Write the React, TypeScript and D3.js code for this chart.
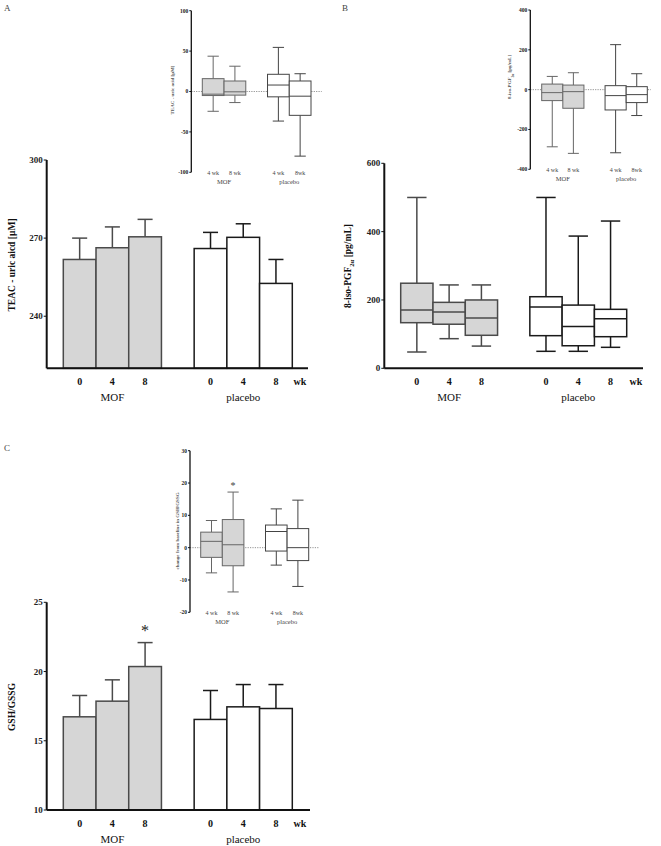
import React from "react";
import * as d3 from "d3";

// ---------- data ----------
const slots = ["MOF-0", "MOF-4", "MOF-8", "gap", "placebo-0", "placebo-4", "placebo-8"];
const barSlots = ["MOF-0", "MOF-4", "MOF-8", "placebo-0", "placebo-4", "placebo-8"];
const weekLabels = ["0", "4", "8", "0", "4", "8"];
const insetSlots = ["MOF-4", "MOF-8", "gap", "placebo-4", "placebo-8"];
const insetBoxSlots = ["MOF-4", "MOF-8", "placebo-4", "placebo-8"];
const insetWeekLabels = ["4 wk", "8 wk", "4 wk", "8wk"];

// Panel A: TEAC - uric acid (mean, upper SD)
const teacMean = [261.8, 266.3, 270.5, 266.0, 270.3, 252.6];
const teacUpper = [270.0, 274.3, 277.2, 272.2, 275.5, 261.8];
const teacTicks = [240, 270, 300];
// Panel A inset: change from baseline
const teacChgMin = [-24.5, -13.7, -36.6, -80];
const teacChgQ1 = [-5, -4.5, -6.6, -29.5];
const teacChgMed = [-3.3, -0.4, 8, -5.8];
const teacChgQ3 = [15.9, 13, 21.3, 13];
const teacChgMax = [43.7, 31.3, 54.6, 22];
const teacChgTicks = [-100, -50, 0, 50, 100];

// Panel B: 8-iso-PGF2a boxplots
const isoMin = [47.7, 86.7, 65, 49.7, 49.7, 61.4];
const isoQ1 = [133.5, 129, 96.6, 95.5, 66, 92.5];
const isoMed = [170.6, 165, 147, 179.4, 122, 145];
const isoQ3 = [249, 193, 200, 209.5, 185, 172.6];
const isoMax = [500, 244, 244, 500, 387, 431];
const isoTicks = [0, 200, 400, 600];
// Panel B inset
const isoChgMin = [-287, -320, -317, -130];
const isoChgQ1 = [-55, -93.5, -102, -65];
const isoChgMed = [-15, -10, -30, -25];
const isoChgQ3 = [28, 23, 20, 15];
const isoChgMax = [66.5, 85, 226, 80];
const isoChgTicks = [-400, -200, 0, 200, 400];

// Panel C: GSH/GSSG
const gshMean = [16.73, 17.86, 20.36, 16.54, 17.45, 17.33];
const gshUpper = [18.27, 19.4, 22.09, 18.63, 19.06, 19.06];
const gshTicks = [10, 15, 20, 25];
// Panel C inset
const gshChgMin = [-7.8, -13.7, -5.4, -12];
const gshChgQ1 = [-3, -5.6, -1.05, -4];
const gshChgMed = [1.95, 0.9, 5, 0];
const gshChgQ3 = [4.8, 8.7, 7, 5.9];
const gshChgMax = [8.4, 17.2, 12, 14.7];
const gshChgTicks = [-20, -10, 0, 10, 20, 30];

// ---------- style ----------
const FONT = "'Liberation Serif', 'DejaVu Serif', serif";
const MOF_FILL = "#d6d6d6";
const MOF_STROKE = "#4a4a4a";
const PLA_STROKE = "#1a1a1a";
const isMOF = (s: string) => s.startsWith("MOF");

type YLabel = React.ReactNode;

function YAxis({ x, y, ticks, fontSize, width, tickLen }: any) {
  const [r0, r1] = y.range();
  return (
    <g>
      <line x1={x} x2={x} y1={r0} y2={r1} stroke="#111" strokeWidth={width} />
      {ticks.map((t: number) => (
        <g key={t}>
          <line x1={x - tickLen} x2={x} y1={y(t)} y2={y(t)} stroke="#111" strokeWidth={1} />
          <text
            x={x - tickLen - 1}
            y={y(t)}
            dy="0.35em"
            textAnchor="end"
            fontFamily={FONT}
            fontWeight="bold"
            fontSize={fontSize}
            fill="#222"
          >
            {t}
          </text>
        </g>
      ))}
    </g>
  );
}

function MainXLabels({ x, baseY, wkX }: any) {
  return (
    <g fontFamily={FONT} fill="#111">
      {barSlots.map((s, i) => (
        <text key={s} x={x(s)! + x.bandwidth() / 2} y={baseY} textAnchor="middle" fontWeight="bold" fontSize={10}>
          {weekLabels[i]}
        </text>
      ))}
      <text x={wkX} y={baseY} textAnchor="middle" fontWeight="bold" fontSize={10}>wk</text>
      <text x={x("MOF-4")! + x.bandwidth() / 2} y={baseY + 16} textAnchor="middle" fontSize={11}>MOF</text>
      <text x={x("placebo-4")! + x.bandwidth() / 2} y={baseY + 16} textAnchor="middle" fontSize={11}>placebo</text>
    </g>
  );
}

function BarPanel({ means, uppers, yDomain, yRange, ticks, axisX, xRange, axisEnd, labelBase, wkX, ylabel, ylabelY, star }: any) {
  const x = d3.scaleBand<string>().domain(slots).range(xRange).padding(0);
  const y = d3.scaleLinear().domain(yDomain).range(yRange);
  const bw = x.bandwidth();
  const base = yRange[0];
  return (
    <g>
      {barSlots.map((s, i) => {
        const m = isMOF(s);
        const stroke = m ? MOF_STROKE : PLA_STROKE;
        const cx = x(s)! + bw / 2;
        return (
          <g key={s}>
            <line x1={cx} x2={cx} y1={y(means[i])} y2={y(uppers[i])} stroke={stroke} strokeWidth={1.5} />
            <line x1={cx - bw * 0.23} x2={cx + bw * 0.23} y1={y(uppers[i])} y2={y(uppers[i])} stroke={stroke} strokeWidth={1.5} />
            <rect
              x={x(s)!}
              y={y(means[i])}
              width={bw}
              height={base - y(means[i])}
              fill={m ? MOF_FILL : "#fff"}
              stroke={stroke}
              strokeWidth={1.5}
            />
          </g>
        );
      })}
      {star !== undefined && (
        <text
          x={x(barSlots[star])! + bw / 2}
          y={y(uppers[star]) - 7}
          textAnchor="middle"
          fontFamily={FONT}
          fontSize={16}
          fill="#222"
        >
          *
        </text>
      )}
      <line x1={axisX} x2={axisEnd} y1={base} y2={base} stroke="#111" strokeWidth={2} />
      <YAxis x={axisX} y={y} ticks={ticks} fontSize={9} width={2} tickLen={3} />
      <MainXLabels x={x} baseY={labelBase} wkX={wkX} />
      <text
        transform={`translate(${axisX - 32},${ylabelY}) rotate(-90)`}
        textAnchor="middle"
        fontFamily={FONT}
        fontWeight="bold"
        fontSize={9.5}
        fill="#111"
      >
        {ylabel}
      </text>
    </g>
  );
}

function BoxGlyph({ cx, bw, y, mn, q1, md, q3, mx, fill, stroke, lw, cap }: any) {
  return (
    <g>
      <line x1={cx} x2={cx} y1={y(mx)} y2={y(q3)} stroke={stroke} strokeWidth={lw} />
      <line x1={cx} x2={cx} y1={y(q1)} y2={y(mn)} stroke={stroke} strokeWidth={lw} />
      <line x1={cx - bw * cap} x2={cx + bw * cap} y1={y(mx)} y2={y(mx)} stroke={stroke} strokeWidth={lw} />
      <line x1={cx - bw * cap} x2={cx + bw * cap} y1={y(mn)} y2={y(mn)} stroke={stroke} strokeWidth={lw} />
      <rect x={cx - bw / 2} y={y(q3)} width={bw} height={y(q1) - y(q3)} fill={fill} stroke={stroke} strokeWidth={lw} />
      <line x1={cx - bw / 2} x2={cx + bw / 2} y1={y(md)} y2={y(md)} stroke={stroke} strokeWidth={lw} />
    </g>
  );
}

function BoxPanel({ mn, q1, md, q3, mx, yDomain, yRange, ticks, axisX, xRange, axisEnd, labelBase, wkX, ylabel, ylabelY }: any) {
  const x = d3.scaleBand<string>().domain(slots).range(xRange).padding(0);
  const y = d3.scaleLinear().domain(yDomain).range(yRange);
  const bw = x.bandwidth();
  const base = yRange[0];
  return (
    <g>
      {barSlots.map((s, i) => (
        <BoxGlyph
          key={s}
          cx={x(s)! + bw / 2}
          bw={bw}
          y={y}
          mn={mn[i]}
          q1={q1[i]}
          md={md[i]}
          q3={q3[i]}
          mx={mx[i]}
          fill={isMOF(s) ? MOF_FILL : "#fff"}
          stroke={isMOF(s) ? MOF_STROKE : PLA_STROKE}
          lw={1.5}
          cap={0.3}
        />
      ))}
      <line x1={axisX} x2={axisEnd} y1={base} y2={base} stroke="#111" strokeWidth={2} />
      <YAxis x={axisX} y={y} ticks={ticks} fontSize={9} width={2} tickLen={3} />
      <MainXLabels x={x} baseY={labelBase} wkX={wkX} />
      <text
        transform={`translate(${axisX - 33},${ylabelY}) rotate(-90)`}
        textAnchor="middle"
        fontFamily={FONT}
        fontWeight="bold"
        fontSize={9.5}
        fill="#111"
      >
        {ylabel}
      </text>
    </g>
  );
}

function Inset({ mn, q1, md, q3, mx, yDomain, yRange, ticks, axisX, xRange, zeroEnd, labelY, ylabel, ylabelX, ylabelY, star }: any) {
  const x = d3.scaleBand<string>().domain(insetSlots).range(xRange).padding(0);
  const y = d3.scaleLinear().domain(yDomain).range(yRange);
  const bw = x.bandwidth();
  return (
    <g>
      <line x1={axisX} x2={zeroEnd} y1={y(0)} y2={y(0)} stroke="#777" strokeWidth={0.8} strokeDasharray="1.2,1.2" />
      {insetBoxSlots.map((s, i) => (
        <BoxGlyph
          key={s}
          cx={x(s)! + bw / 2}
          bw={bw}
          y={y}
          mn={mn[i]}
          q1={q1[i]}
          md={md[i]}
          q3={q3[i]}
          mx={mx[i]}
          fill={isMOF(s) ? MOF_FILL : "#fff"}
          stroke={isMOF(s) ? "#666" : "#444"}
          lw={1}
          cap={0.26}
        />
      ))}
      {star !== undefined && (
        <text x={x(insetBoxSlots[star])! + bw / 2} y={y(mx[star]) - 3} textAnchor="middle" fontFamily={FONT} fontSize={10} fill="#444">
          *
        </text>
      )}
      <YAxis x={axisX} y={y} ticks={ticks} fontSize={5.5} width={1.3} tickLen={2} />
      <g fontFamily={FONT} fill="#444" fontSize={6}>
        {insetBoxSlots.map((s, i) => (
          <text key={s} x={x(s)! + bw / 2} y={labelY} textAnchor="middle">
            {insetWeekLabels[i]}
          </text>
        ))}
        <text x={x("MOF-4")! + bw} y={labelY + 9} textAnchor="middle" fontSize={6.5}>MOF</text>
        <text x={x("placebo-4")! + bw} y={labelY + 9} textAnchor="middle" fontSize={6.5}>placebo</text>
      </g>
      <text
        transform={`translate(${ylabelX},${ylabelY}) rotate(-90)`}
        textAnchor="middle"
        fontFamily={FONT}
        fontWeight="bold"
        fontSize={5}
        fill="#555"
      >
        {ylabel}
      </text>
    </g>
  );
}

const isoLabel = (
  <>
    <tspan>8-iso-PGF</tspan>
    <tspan dy={2.5} fontSize="0.7em">2α</tspan>
    <tspan dy={-2.5}> [pg/mL]</tspan>
  </>
);

export default function App() {
  return (
    <svg width={661} height={846} style={{ position: "absolute", left: 0, top: 0, background: "#fff" }}>
      <rect width={661} height={846} fill="#fff" />
      <g fontFamily={FONT} fontSize={9} fill="#444">
        <text x={4} y={11}>A</text>
        <text x={342} y={11}>B</text>
        <text x={4} y={451}>C</text>
      </g>

      {/* Panel A */}
      <BarPanel
        means={teacMean}
        uppers={teacUpper}
        yDomain={[220, 300]}
        yRange={[368.3, 160]}
        ticks={teacTicks}
        axisX={46.7}
        xRange={[63.3, 292.3]}
        axisEnd={308}
        labelBase={384.5}
        wkX={300}
        ylabel="TEAC - uric aicd [µM]"
        ylabelY={265}
      />
      <Inset
        mn={teacChgMin}
        q1={teacChgQ1}
        md={teacChgMed}
        q3={teacChgQ3}
        mx={teacChgMax}
        yDomain={[-100, 100]}
        yRange={[172.3, 10.7]}
        ticks={teacChgTicks}
        axisX={191.3}
        xRange={[202.3, 311]}
        zeroEnd={321.7}
        labelY={174.5}
        ylabel="TEAC - uric acid [µM]"
        ylabelX={174}
        ylabelY={90}
      />

      {/* Panel B */}
      <BoxPanel
        mn={isoMin}
        q1={isoQ1}
        md={isoMed}
        q3={isoQ3}
        mx={isoMax}
        yDomain={[0, 600]}
        yRange={[368.3, 163.3]}
        ticks={isoTicks}
        axisX={384.3}
        xRange={[400.7, 626.7]}
        axisEnd={643}
        labelBase={384.5}
        wkX={636}
        ylabel={isoLabel}
        ylabelY={266}
      />
      <Inset
        mn={isoChgMin}
        q1={isoChgQ1}
        md={isoChgMed}
        q3={isoChgQ3}
        mx={isoChgMax}
        yDomain={[-400, 400]}
        yRange={[169.3, 10]}
        ticks={isoChgTicks}
        axisX={530.3}
        xRange={[541.7, 647.3]}
        zeroEnd={651}
        labelY={172}
        ylabel={isoLabel}
        ylabelX={511}
        ylabelY={77}
      />

      {/* Panel C */}
      <BarPanel
        means={gshMean}
        uppers={gshUpper}
        yDomain={[10, 25]}
        yRange={[810, 602.3]}
        ticks={gshTicks}
        axisX={46.7}
        xRange={[63.3, 292.3]}
        axisEnd={310}
        labelBase={827}
        wkX={300}
        ylabel="GSH/GSSG"
        ylabelY={707}
        star={2}
      />
      <Inset
        mn={gshChgMin}
        q1={gshChgQ1}
        md={gshChgMed}
        q3={gshChgQ3}
        mx={gshChgMax}
        yDomain={[-20, 30]}
        yRange={[612.3, 450.7]}
        ticks={gshChgTicks}
        axisX={190}
        xRange={[200.7, 308.7]}
        zeroEnd={319.3}
        labelY={614.5}
        ylabel="change from baseline in GSH/GSSG"
        ylabelX={179}
        ylabelY={531}
        star={1}
      />
    </svg>
  );
}
